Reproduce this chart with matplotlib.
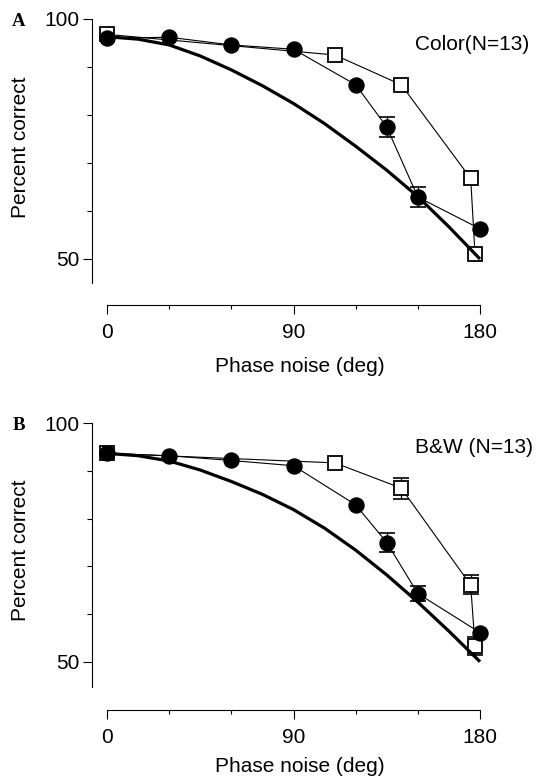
import matplotlib
matplotlib.use('Agg')
import matplotlib.pyplot as plt
import numpy as np

# ---------------- data ----------------
noise_circle = [0, 30, 60, 90, 120, 135, 150, 180]
noise_square = [0, 110, 142, 175.5, 177.6]
noise_curve = [0, 15, 30, 45, 60, 75, 90, 105, 120, 135, 150, 165, 180]

color_circle = [96.0, 96.2, 94.6, 93.7, 86.3, 77.5, 62.9, 56.3]
color_circle_err = [0, 0, 0, 0, 0, 2.0, 2.0, 0]
color_square = [96.8, 92.5, 86.3, 66.8, 51.0]
color_square_err = [0, 0, 0, 0, 0]
color_curve = [96.3, 95.8, 94.6, 92.3, 89.4, 86.1, 82.4, 78.2, 73.5, 68.5, 63.0, 56.7, 50.0]

bw_circle = [93.7, 93.2, 92.2, 91.1, 82.9, 75.0, 64.3, 56.1]
bw_circle_err = [0, 0, 0, 0, 0, 2.0, 1.5, 0]
bw_square = [93.7, 91.7, 86.4, 66.1, 53.3]
bw_square_err = [0, 0, 2.2, 2.0, 1.8]
bw_curve = [93.7, 93.2, 92.1, 90.2, 87.8, 85.1, 81.9, 78.0, 73.4, 68.2, 62.5, 56.4, 50.0]

x_major = [0, 90, 180]
x_minor = [30, 60, 120, 150]
y_major = [50, 100]
y_minor = [60, 70, 80, 90]

panel_letters = ['A', 'B']
panel_titles = ['Color(N=13)', 'B&W (N=13)']

# ---------------- layout ----------------
W, H = 538, 778
plt.rcParams['font.family'] = ['Liberation Sans', 'DejaVu Sans']
fig = plt.figure(figsize=(W / 100, H / 100), dpi=100)


def fx(px):
    return px / W


def fy(py):
    return 1 - py / H


X0_PX, X180_PX = 107.0, 480.0
SPINE_PX, RIGHT_PX = 91.5, 492.0
px_per_deg = (X180_PX - X0_PX) / 180.0
xlo = (SPINE_PX - X0_PX) / px_per_deg
xhi = (RIGHT_PX - X0_PX) / px_per_deg

panels = [
    dict(top=19.0, y50=259.0, bottom=305.3, spine_lo_px=283.0,
         circ=color_circle, circ_err=color_circle_err,
         sq=color_square, sq_err=color_square_err, curve=color_curve,
         letter_base=26.5, title_base=49.5, xlabel_base=372, ylabel_y=147),
    dict(top=423.3, y50=661.7, bottom=710.0, spine_lo_px=686.7,
         circ=bw_circle, circ_err=bw_circle_err,
         sq=bw_square, sq_err=bw_square_err, curve=bw_curve,
         letter_base=430.5, title_base=453, xlabel_base=772, ylabel_y=550),
]

FS = 15

for i, p in enumerate(panels):
    ax = fig.add_axes([fx(SPINE_PX), fy(p['bottom']), fx(RIGHT_PX) - fx(SPINE_PX),
                       (p['bottom'] - p['top']) / H])
    ppu = (p['y50'] - p['top']) / 50.0
    ylo = 100 - (p['bottom'] - p['top']) / ppu
    spine_lo = 100 - (p['spine_lo_px'] - p['top']) / ppu
    ax.set_xlim(xlo, xhi)
    ax.set_ylim(ylo, 100)

    for s in ['top', 'right']:
        ax.spines[s].set_visible(False)
    ax.spines['left'].set_bounds(spine_lo, 100)
    ax.spines['bottom'].set_bounds(0, 180)
    for s in ['left', 'bottom']:
        ax.spines[s].set_linewidth(0.8)

    ax.set_xticks(x_major)
    ax.set_xticks(x_minor, minor=True)
    ax.set_yticks(y_major)
    ax.set_yticks(y_minor, minor=True)
    ax.tick_params(which='major', direction='out', length=6.8, width=0.8,
                   labelsize=FS)
    ax.tick_params(axis='y', which='minor', direction='out', length=3.7, width=0.8)
    ax.tick_params(axis='x', which='minor', direction='out', length=3.0, width=0.8)
    ax.tick_params(axis='x', which='major', pad=6.0)
    ax.tick_params(axis='y', which='major', pad=1.8)

    ns = np.array(noise_square)
    sq = np.array(p['sq'])
    sqe = np.array(p['sq_err'])
    nc = np.array(noise_circle)
    ci = np.array(p['circ'])
    cie = np.array(p['circ_err'])

    # squares (open)
    ax.plot(ns, sq, '-', color='black', lw=0.8, zorder=2)
    m = sqe > 0
    if m.any():
        ax.errorbar(ns[m], sq[m], yerr=sqe[m], fmt='none', ecolor='black',
                    elinewidth=0.9, capsize=5.8, capthick=1.2, zorder=2)
    ax.plot(ns, sq, 's', ms=9.6, mfc='white', mec='black', mew=1.3,
            zorder=3, clip_on=False)

    # model curve
    ax.plot(noise_curve, p['curve'], '-', color='black', lw=2.3, zorder=4,
            solid_capstyle='butt', solid_joinstyle='round')

    # circles (filled)
    ax.plot(nc, ci, '-', color='black', lw=0.8, zorder=5)
    m = cie > 0
    if m.any():
        ax.errorbar(nc[m], ci[m], yerr=cie[m], fmt='none', ecolor='black',
                    elinewidth=0.9, capsize=5.8, capthick=1.2, zorder=5)
    ax.plot(nc, ci, 'o', ms=11.8, mfc='black', mec='black', mew=0,
            zorder=6, clip_on=False)

    # texts
    fig.text(fx(19), fy(p['letter_base']), panel_letters[i], ha='center',
             va='baseline', fontsize=13.5, fontweight='bold',
             family=['Liberation Serif', 'DejaVu Serif'])
    fig.text(fx(415), fy(p['title_base']), panel_titles[i], ha='left',
             va='baseline', fontsize=FS)
    fig.text(fx(300), fy(p['xlabel_base']), 'Phase noise (deg)', ha='center',
             va='baseline', fontsize=FS)
    fig.text(fx(20.5), fy(p['ylabel_y']), 'Percent correct', ha='center',
             va='center', rotation=90, fontsize=FS)

fig.savefig('out.png', dpi=100)
